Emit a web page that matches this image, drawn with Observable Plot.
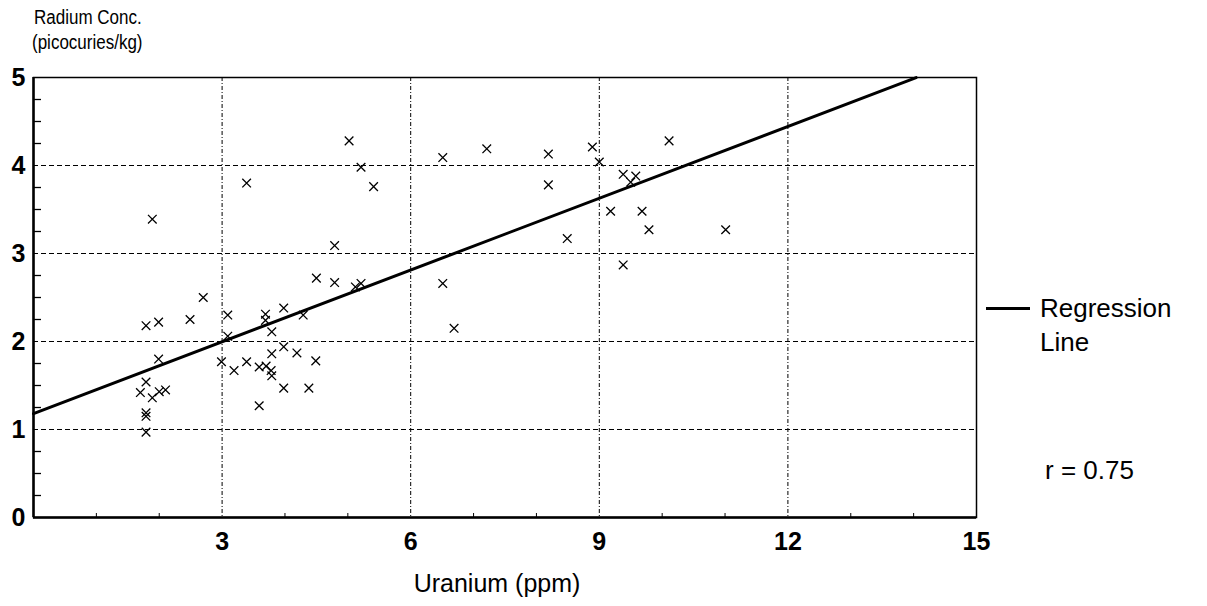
<!DOCTYPE html>
<html><head><meta charset="utf-8">
<script src="https://cdn.jsdelivr.net/npm/d3@7"></script>
<script src="https://cdn.jsdelivr.net/npm/@observablehq/plot@0.6"></script>
<style>
body{margin:0;background:#fff;font-family:"Liberation Sans",Arial,sans-serif;}
#wrap{position:relative;width:1207px;height:606px;overflow:hidden;}
.t{position:absolute;color:#000;white-space:nowrap;line-height:1;}
.n{transform:scaleX(0.85);transform-origin:0 0;}
#wrap svg{position:absolute;left:0;top:0;}
</style></head><body><div id="wrap"></div>
<script>
const uranium = [1.89,3.39,5.41,4.79,4.50,4.79,5.12,5.21,2.70,2.49,1.79,1.99,3.09,3.69,3.69,3.98,4.29,3.79,3.09,1.99,2.99,3.19,3.39,3.59,3.70,3.79,3.78,3.79,3.98,4.19,4.49,3.98,4.38,3.59,1.79,1.70,1.89,2.00,2.10,1.79,1.79,1.79,5.02,5.21,6.51,7.21,8.19,8.19,8.89,9.00,10.11,9.38,9.58,9.50,9.18,9.68,9.79,8.49,9.38,11.01,6.51,6.69];
const radium  = [3.39,3.80,3.76,3.09,2.72,2.67,2.62,2.66,2.50,2.25,2.18,2.22,2.30,2.31,2.24,2.38,2.30,2.11,2.06,1.80,1.77,1.67,1.77,1.71,1.72,1.86,1.67,1.61,1.94,1.87,1.78,1.47,1.47,1.27,1.54,1.42,1.36,1.43,1.45,1.19,1.15,0.97,4.28,3.98,4.09,4.19,4.13,3.78,4.21,4.04,4.28,3.90,3.88,3.81,3.48,3.48,3.27,3.17,2.87,3.27,2.66,2.15];
const xTicks = [3,6,9,12,15];
const yTicks = [0,1,2,3,4,5];
const xGridVals = [3,6,9,12];
const yGridVals = [1,2,3,4];
const xMinor = [1,2,4,5,7,8,10,11,13,14];
const yMinor = [0.25,0.5,0.75,1.25,1.5,1.75,2.25,2.5,2.75,3.25,3.5,3.75,4.25,4.5,4.75];
const regIntercept = 1.18;
const regSlope = 0.272;
const regXEnds = [0, 14.04];
const yTitle = ["Radium Conc.", "(picocuries/kg)"];
const xTitle = "Uranium (ppm)";
const legendLabel = ["Regression", "Line"];
const rText = "r = 0.75";

const points = uranium.map((u,i)=>({u, r: radium[i]}));
const regPoints = regXEnds.map(x=>({x, y: regIntercept + regSlope*x}));

const font = '"Liberation Sans", Arial, sans-serif';
const chart = Plot.plot({
  width: 1207, height: 606,
  marginLeft: 33, marginRight: 231, marginTop: 77, marginBottom: 89,
  x: {domain:[0,15]},
  y: {domain:[0,5]},
  style: {fontFamily: font, background: "transparent", color:"#000"},
  marks: [
    Plot.gridY(yGridVals, {stroke:"#000", strokeOpacity:1, strokeWidth:1, strokeDasharray:"5,3"}),
    Plot.gridX(xGridVals, {stroke:"#000", strokeOpacity:1, strokeWidth:1, strokeDasharray:"4,2,1,2"}),
    Plot.axisY(yMinor, {tickSize:-8, text:null, strokeWidth:1.3, label:null}),
    Plot.axisX(xMinor, {tickSize:-4, text:null, strokeWidth:1, label:null}),
    Plot.axisY(yTicks, {tickSize:0, tickPadding:8, fontSize:25, fontWeight:"bold", tickFormat:d=>String(d), label:null}),
    Plot.axisX(xTicks, {tickSize:0, tickPadding:15, fontSize:25, fontWeight:"bold", tickFormat:d=>String(d), label:null}),
    Plot.frame({stroke:"#000", strokeWidth:1.5}),
    Plot.ruleX([0], {stroke:"#000", strokeWidth:2.5}),
    Plot.ruleY([0], {stroke:"#000", strokeWidth:2.5}),
    Plot.line(regPoints, {x:"x", y:"y", stroke:"#000", strokeWidth:3}),
    Plot.dot(points, {x:"u", y:"r", symbol:"times", r:4, stroke:"#000", strokeWidth:1.3})
  ]
});
const wrap = document.getElementById("wrap");
wrap.appendChild(chart);
function addText(txt, left, top, size, cls, extra){
  const d = document.createElement("div");
  d.className = "t" + (cls ? " " + cls : ""); d.textContent = txt;
  d.style.left = left+"px"; d.style.top = top+"px"; d.style.fontSize = size+"px";
  if (extra) Object.assign(d.style, extra);
  wrap.appendChild(d);
  return d;
}
addText(yTitle[0], 34, 7, 20, "n");
addText(yTitle[1], 32, 32, 20, "n");
addText(xTitle, 497, 571, 25, "", {transform:"translateX(-50%)"});
const leg = document.createElement("div");
Object.assign(leg.style, {position:"absolute", left:"986px", top:"307px", width:"44px", borderTop:"3px solid #000"});
wrap.appendChild(leg);
addText(legendLabel[0], 1040, 295, 26);
addText(legendLabel[1], 1040, 329, 26);
addText(rText, 1045, 457, 26);
</script>
</body></html>
